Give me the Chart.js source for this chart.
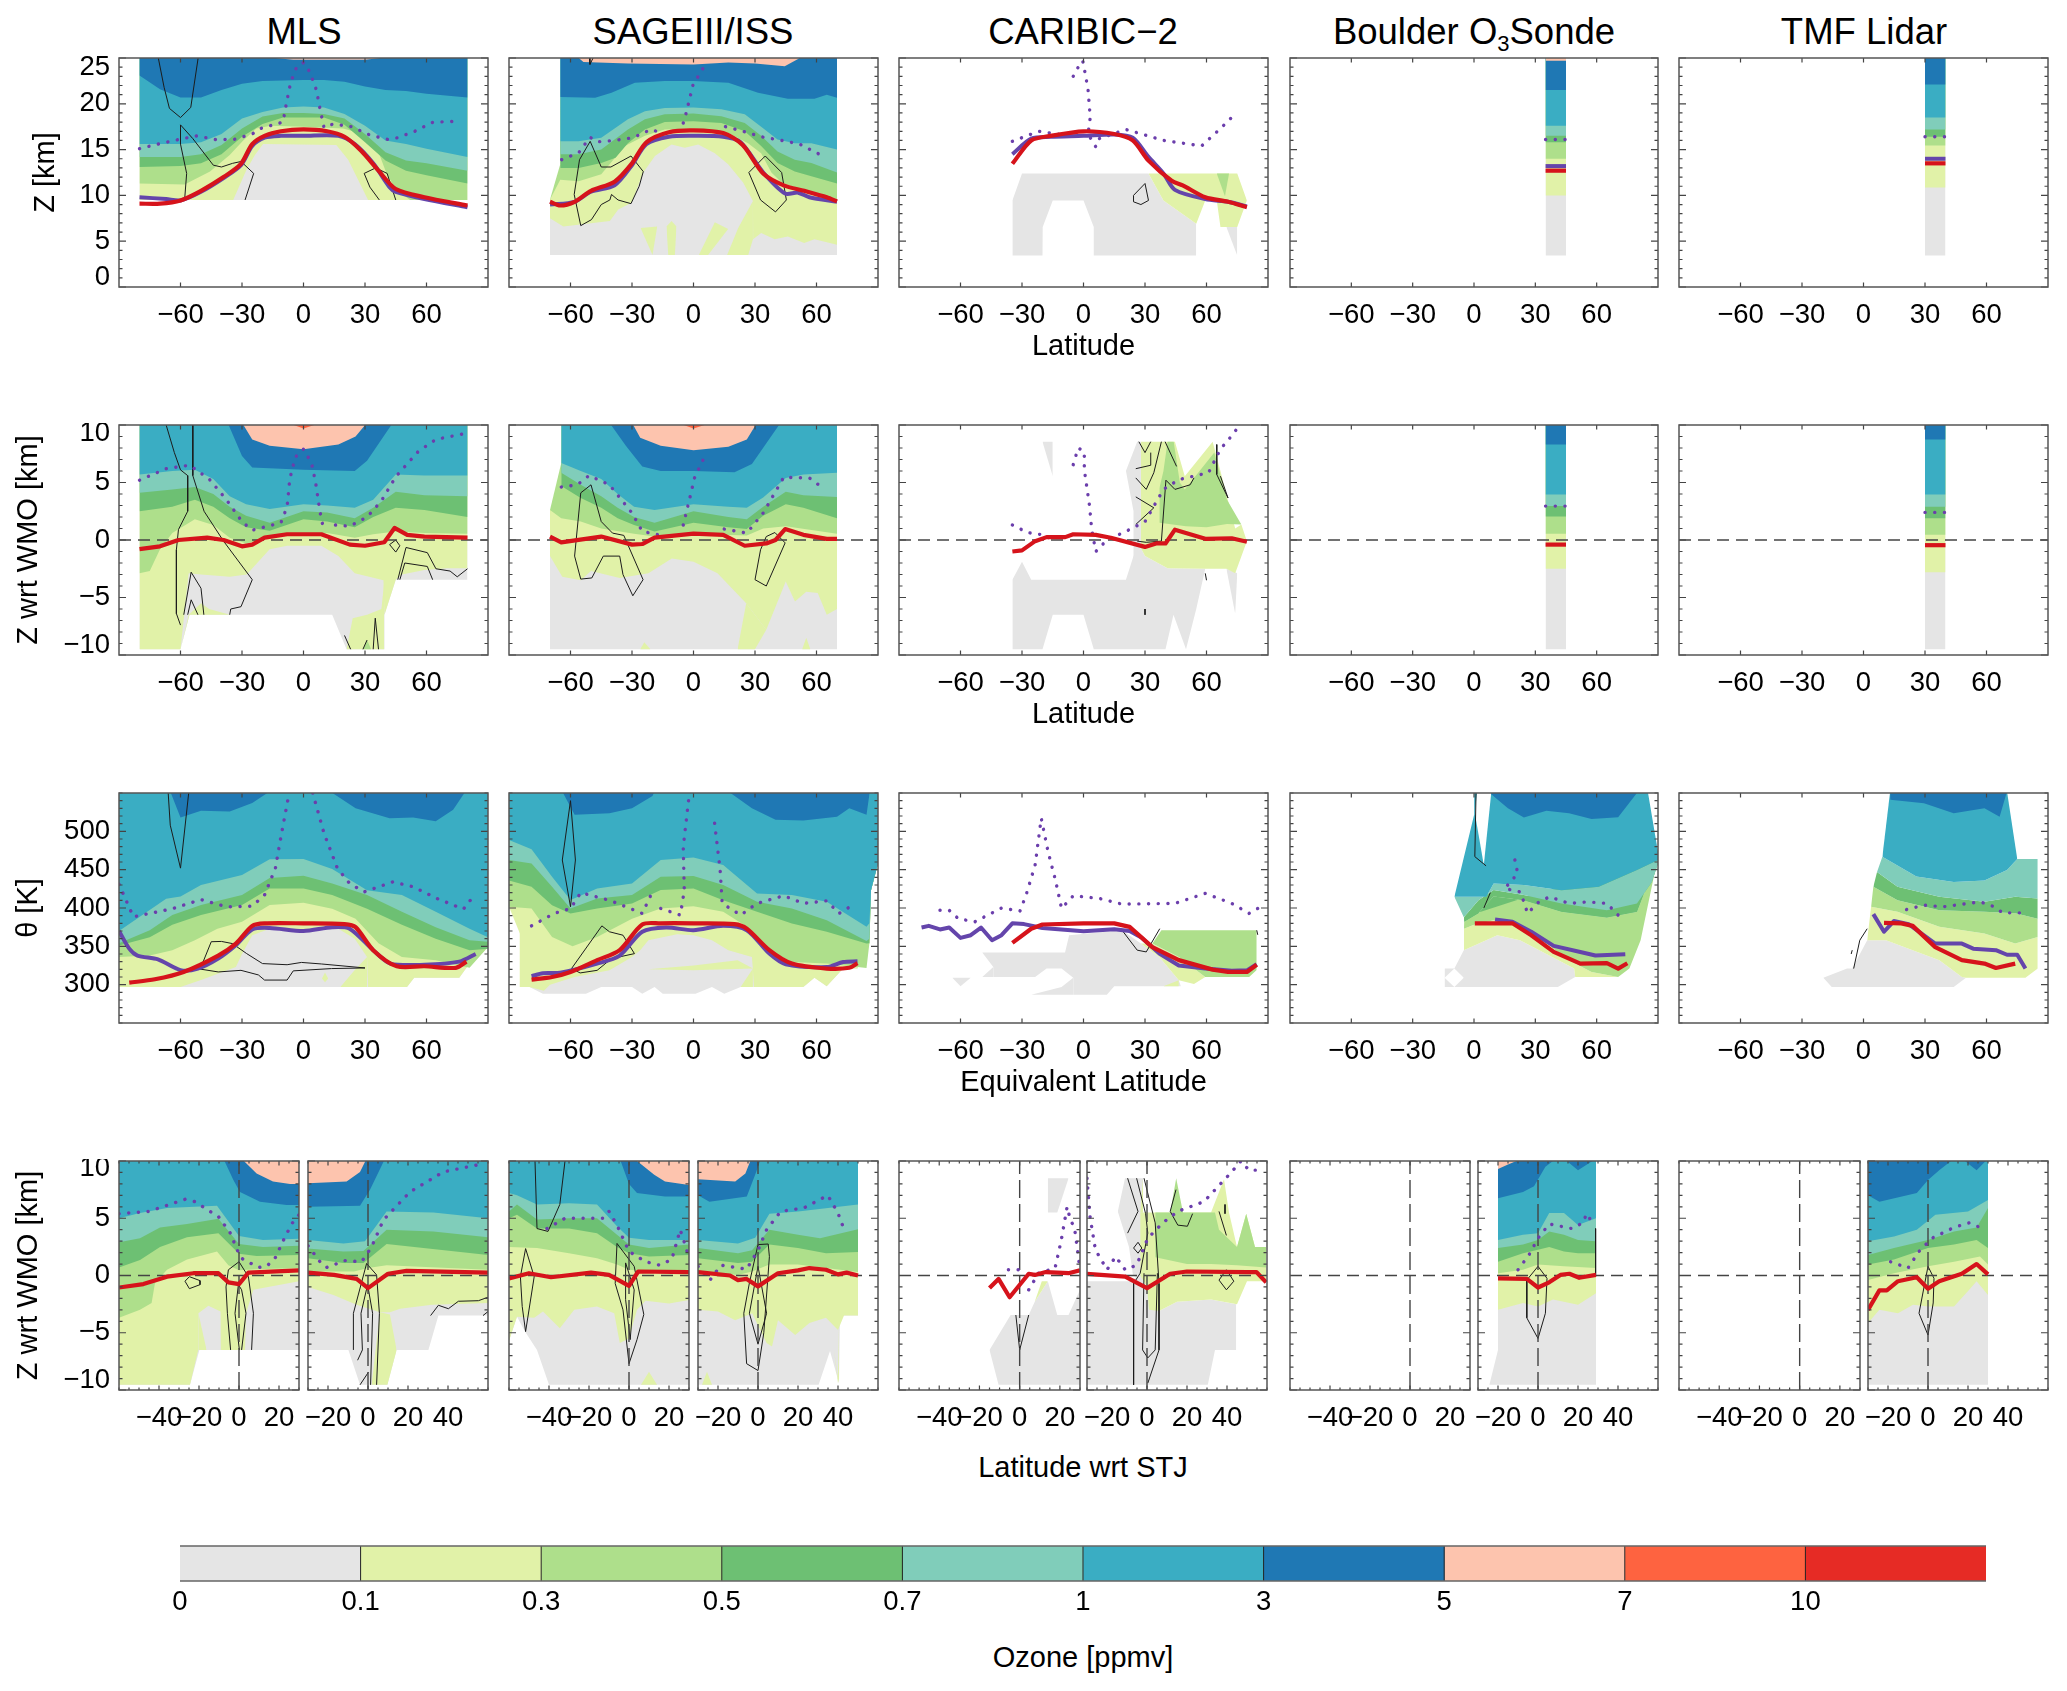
<!DOCTYPE html>
<html><head><meta charset="utf-8">
<script src="https://cdn.jsdelivr.net/npm/chart.js@4"></script>
<style>
html,body{margin:0;padding:0;background:#fff;width:2067px;height:1691px;overflow:hidden;font-family:"Liberation Sans",Arial,sans-serif;color:#000}
canvas{position:absolute}
.t{position:absolute;transform:translate(-50%,-50%);white-space:nowrap}
.h{font-size:36.5px}.l{font-size:29px}
sub{font-size:22px;line-height:0;vertical-align:-7px}
</style></head><body>
<div class="t h" style="left:304px;top:32px">MLS</div>
<div class="t h" style="left:693px;top:32px">SAGEIII/ISS</div>
<div class="t h" style="left:1083px;top:32px">CARIBIC−2</div>
<div class="t h" style="left:1474px;top:32px">Boulder O<sub>3</sub>Sonde</div>
<div class="t h" style="left:1864px;top:32px">TMF Lidar</div>
<div class="t l" style="left:1083px;top:1467px">Latitude wrt STJ</div>
<div class="t l" style="left:1083px;top:1657px">Ozone [ppmv]</div>
<script>
// ---- colour-bar categories
const ozoneLabels=["0","0.1","0.3","0.5","0.7","1","3","5","7","10"];
const ozoneBins=[1,1,1,1,1,1,1,1,1,1];
const C=['#E5E5E5','#E1F2A8','#AEDF8B','#6DC073','#80CDBA','#3AADC3','#1F78B4','#FDC4AE','#FE6340','#E62B25','#FFFFFF'];
const W=10;
// Each *_iso list: lower data limit, then the 0.1,0.3,0.5,0.7,1,3,5,7 ppmv contours as [x,y,x,y,...]

// ===== Row 1: Z [km] vs latitude =====
const mlsZ_iso=[
[-80,9.5,80,9.5],
[-80,9.5,-34.3,9.5,-27.8,12.8,-23.7,14.4,-19.7,15.6,16,15.5,21.8,13.9,31.5,9.5,80,9.5],
[-80,11.3,-58,11.2,-45.6,12.6,-36,14.4,-29.4,16,-23,17.3,-16,17.6,0,17.5,19.3,17.3,27.5,16.8,35.6,15.3,40.5,12.4,45.3,10.6,52,9.5,80,9.5],
[-80,13.1,-60,13.2,-50,13.5,-40,14.5,-30,16.4,-20,17.8,-10,18.5,0,18.5,10,18.5,20,17.7,30,15.8,40,13.8,50,12.7,60,12.2,80,11.3],
[-80,14.2,-60,14.2,-50,14.5,-40,15.5,-30,17.3,-20,18.6,-10,19,0,19,10,18.9,20,18.4,30,16.7,40,14.7,50,13.8,60,13.5,80,12.7],
[-80,15.6,-60,15.6,-50,15.8,-40,16.7,-30,18.4,-20,19.1,-10,19.6,0,19.7,10,19.6,20,18.9,30,17.6,40,16,50,15.6,60,15.1,80,14.2],
[-80,23.1,-70,21.6,-60,20.7,-50,20.7,-40,21.5,-30,22.2,-20,22.5,0,22.6,10,22.6,20,22.4,30,21.9,40,21.5,50,21.4,60,21.1,80,20.7],
[-22,25.2,-5,24.8,10,24.8,30,24.8,45,25.2]];
const mlsZ_red=[-80,9.1,-70,9.1,-60,9.45,-50,10.5,-39,12,-30.5,13.45,-25,15.6,-19,16.5,-11,17,0,17.2,11.5,17,20,16.4,28,14.9,36.6,12.7,45,10.7,59,9.8,80,8.9];
const mlsZ_purple=[-80,9.8,-67,9.6,-60,9.45,-50,10.4,-39,11.9,-30.5,13.3,-25,15.4,-19,16.3,-11,16.5,0,16.5,17,16.5,25,15.6,34,13.5,42,10.9,45,10.4,59,9.6,80,8.7];
const mlsZ_dots=[-80,15.1,-71,15.6,-61,16.1,-52,16.5,-43,16.1,-34,16.1,-25,16.7,-21,17.3,-10,18,-8.3,20.1,-6.3,22.3,-3.4,24,0,24.5,3,23.5,6.3,21.5,8,19.5,10,17.4,14.5,17.8,23.4,17.5,32.3,16.6,41.3,16.1,46,16.3,54.3,17,63.2,18,77,18.1];
const mlsZ_black=[[-71,25.2,-68,21.8,-65.4,19.5,-60,18.5,-55,19.6,-51.4,25],[-58,9.5,-57,12.4,-60,15.6,-60,17.7,-54,16.2,-44,13.3,-40,13.1,-34.6,13.5,-30.5,13.7,-24.3,12.4,-28.5,9.5],[37,9.5,32.4,10.9,29.6,12.4,35.2,13,40.8,12.4,45,9.5]];

const sageZ_iso=[
[-70,3.5,70,3.5],
[-70,7.5,-63.5,6.6,-40.8,7.2,-36.7,8.45,-30.2,9.2,-24.5,12.5,-18.8,14.3,-10.7,15.55,-4.2,15.2,2.3,15.55,10.4,14.6,16.9,13.4,24.2,11.4,29,9.4,29.1,5.2,33,5.9,39.6,5.2,46,5.5,54,4.8,59,5.2,70,4.6],
[-70,9.55,-65,11.7,-56,11.55,-45,12.3,-33.5,15.4,-23.7,16.5,-14,17.2,0,17.3,17,16.8,26.6,15.7,33,14.6,38,12.5,43,11.4,57.5,10.3,70,9.4],
[-65,13,-56,13,-45,13.55,-38,14.1,-32,15.7,-23.7,17.2,-14,18,0,18.1,13.6,17.9,25,17,33,15.4,41,13.55,49.4,12.6,57.5,12.1,70,11.3],
[-65,14.5,-56,14.5,-45,15,-32,17.2,-23.7,18.3,-14,18.85,0,18.95,13.6,18.65,25,17.9,33,16.5,41,14.8,49.4,13.9,57.5,13.55,70,12.5],
[-65,15.9,-56,15.9,-45,16.3,-32,18.3,-23.7,19.2,-14,19.55,0,19.6,13.6,19.4,25,18.85,33,17.5,41,16.1,49.4,15.7,57.5,15.7,70,15],
[-65,20.75,-48,20.65,-40,21.2,-28.6,22.3,-14,22.5,0,22.5,17,22.3,31.5,21.2,46,20.55,59,20.55,65,21,70,20.65],
[-57,25.2,-53.7,24.55,-32,24.4,0,24.3,17,24.5,30,24.4,44.5,24.1,51,24.9,53,25.2]];
const sageZ_spots=[
[1,[16.4,3.5,21.8,6.45,29,9.4],[16.4,3.5,26.7,3.5,29,5.2]],
[1,[-25.8,6.45,-17.7,6.6],[-25.8,6.45,-20,3.5,-17.7,6.6]],
[1,[-13.2,6.6,-10.7,7.2,-8.3,6.6],[-13.2,6.6,-12.3,3.5,-9.1,3.5,-8.3,6.6]],
[1,[2.6,3.5,10.4,7.07,16.9,6.34],[2.6,3.5,7.1,3.5,16.9,6.34]],
[W,[-70,26,-65,26],[-70,9.55,-65,13.4]]];
const sageZ_red=[-70,9.3,-65,8.9,-58,9.3,-50,10.5,-38.5,11.5,-30,13.5,-23,15.8,-12,16.9,0,17.1,14.5,16.8,24,15.5,34,12.4,44,11.1,54,10.5,65,9.8,70,9.35];
const sageZ_purple=[-70,9,-58,9.3,-50,10.4,-38.5,11.1,-30,13.3,-23,15.6,-12,16.4,0,16.5,14.5,16.4,23,15.8,34,12.5,44.7,10.2,51,10.3,56.5,9.8,70,9.3];
const sageZ_dots=[-64.3,13.9,-56,14.65,-50.5,16.35,-46.8,15.85,-38.3,16,-29.4,16.3,-20.8,17.2,-16.7,16.9];
const sageZ_dots2=[-5,17.9,-3.7,18.9,-2.6,19.9,-0.2,22.1,2.3,23,4.7,23.9];
const sageZ_dots3=[15.6,17.5,24.2,17,33,16.4,43,16,51.8,15.6,60,14.65,64,14.2];
const sageZ_black=[[-55,6.7,-58.2,10.1,-55.6,13.9,-50.4,15.9,-45,13.1,-40.3,13.1,-30.5,14.3,-24.5,12.6,-26.5,11,-30.5,9.1,-36.8,9.5,-40,10.1,-40.8,9.5,-45,9,-49.8,7.35,-55,6.7],[27,12.5,32.7,9.5,40,8.2,45.3,9.5,43,12.5,35,14.3,27,12.5],[-50.5,24.3,-49,25],[-50.8,25,-50.5,24.3]];

const caribicZ_spots=[
[0,[-34.7,9.45,-30,12.4,31.7,12.4,39,9.45,55,6.9],[-34.7,3.45,-20,3.45,-19.9,6.55,-15,9.45,0,9.45,5,6.55,5.1,3.45,55,3.45]],
[0,[69.7,6.55,75,6.55],[69.7,6.55,74.9,3.45,75,3.45]],
[1,[31.7,12.4,75,12.4,79.7,9.45],[31.7,12.4,39,9.45,55,6.9,59.4,9.45,65,9.45,66.8,6.55,75,6.55,79.7,9.45]],
[2,[65,12.4,71,12.4],[65,12.4,69,9.9,71,12.4]]];
const caribicZ_red=[-34.7,13.45,-25.5,16,-16,16.5,0,17,15,16.7,24,16,31.7,13.8,43,11.6,48.4,11.1,59.4,9.8,70.5,9.3,79.7,8.7];
const caribicZ_purple=[-34.7,14.5,-25.5,16.2,-16,16.4,0,16.5,15,16.65,24,16.3,31.7,14.2,39,12.4,44.6,10.6,59.4,9.6,70.5,9.3,79.7,8.8];
const caribicZ_dots=[-34.7,15.9,-21.8,17,-7,16.5];
const caribicZ_dots2=[-5,23,-2.6,24,-0.4,24.7,0.4,23.8,2.2,21.6,3.3,18.5,2.2,16.7,6,15.3,7.7,16.2,20.7,17.2,39,16,57.6,15.4,66.8,17.3,74,18.9];
const caribicZ_black=[[24.4,9.3,24.4,10,30,11.3,31.7,9.45,28,9,24.4,9.3]];

const boulderZ_levels=[3.45,10,14,15.8,16.5,17.6,21.5,24.7];
const boulderZ_lat=[35,45];
const boulderZ_red=[35,12.7,45,12.7];
const boulderZ_purple=[35,13.2,45,13.2];
const boulderZ_dots=[35,16.1,45,16.1];
const tmfZ_levels=[3.45,10.85,15.45,16.4,17.2,18.5,22.1];
const tmfZ_lat=[30,40];
const tmfZ_red=[30,13.5,40,13.5];
const tmfZ_purple=[30,14,40,14];
const tmfZ_dots=[30,16.4,40,16.4];

// ===== Row 2: Z wrt WMO =====
const mlsW_iso=[
[-80,-9.5,-60,-9.5,-55.6,-6.5,14,-6.5,21,-9.5,39.4,-9.5,39.5,-6.5,45,-3.45,80,-3.45],
[-80,-9.5,-60,-9.5,-56,-2.9,-50,-3,-36,-3.2,-27.7,-3,-16.5,-0.8,-8,-0.5,8.7,-0.5,17,-1.4,25,-2.9,39,-3.5,39.5,-6.5,45,-3.45,48,-3,59,-2.6,70,-2.45,80,-2.45],
[-80,-2.9,-75,-2.7,-70,-0.8,-64,0.6,-53,1.8,-44,1.3,-36,0.2,-28,-0.3,-16.5,0.2,0,0.6,11.5,0.6,25,0.2,34,0.5,45,0.75,59,0.6,80,0.55],
[-80,2.5,-64,2.9,-53,3.5,-44,2.9,-36,1.9,-28,1.1,-16.5,0.8,0,1.8,11.5,1.6,25,1.1,34,2,45,2.8,59,2.6,80,2],
[-80,4.1,-64,4.4,-53,4.6,-44,4,-36,2.9,-28,2.1,-16.5,1.5,0,2.5,11.5,2.4,25,1.9,34,2.8,45,4.2,59,3.9,80,3.8],
[-80,5.7,-64,6,-53,6.1,-44,5.3,-36,3.8,-28,3.1,-16.5,2.7,0,3.1,11.5,3,25,2.8,34,3.5,45,5.7,59,5.6,80,5.6],
[-37,10.2,-30,7.3,-25,6.3,0,6.1,25,6,31,6.9,43.6,10.2],
[-30,10.2,-25,8.75,-16.5,8.2,0,7.9,17,8.3,25.4,9,31,10.2],
[-8,10.2,0,9.7,8.7,10.2]];
const mlsW_spots=[
[1,[-60,-9.5,-56,-6.5,-50,-5.5,-46,-6,-36,-6.5],[-60,-9.5,-55.6,-6.5,-36,-6.5]],
[1,[21,-9.5,24,-6.8,31,-6.5,38,-6,39.4,-3.6],[21,-9.5,39.4,-9.5]],
[2,[29,-9.5,31,-8.7,33,-9.5],[29,-9.5,33,-9.5]]];
const mlsW_red=[-80,-0.8,-70,-0.55,-61,0,-47,0.2,-39,0,-30,-0.55,-25,-0.4,-19,0.2,-8,0.5,8.7,0.5,22.6,-0.4,30,-0.5,39.4,-0.2,44.4,1.05,50.6,0.45,59,0.3,80,0.2];
const mlsW_dots=[-80,5.2,-67,6.2,-55.6,6.5,-46,5.3,-37.6,3.5,-30,1.6,-25,0.85,-11,1.5,-8,2.9,-6.7,5.3,-4,7.2,0,7.9,3.9,6.7,5.9,5,8,2.5,10,0.75];
const mlsW_dots2=[15.6,1.3,22.6,1.2,31,2,38,3.4,45,5.5,56,7.7,64.6,8.75,80,9.3];
const mlsW_black=[[-67,10,-63,7.6,-60,6.1,-56.5,5.6,-56.5,2.5,-61,0.9,-62,-0.85,-62,-6.4,-60,-7.4],[-54,10,-54,5.6,-48.5,2.5,-39,-0.1,-25,-3.45,-30.5,-5.8,-35.5,-6,-36,-6.5],[-58.4,-6.5,-54.8,-2.8,-50,-4.2,-48.6,-6.5],[-56.5,-6.5,-54.8,-5.2,-51.5,-6.5],[42,-0.4,45,0,47,-0.5,45,-1.05,42,-0.4],[46,-3.45,50,-0.65,60.4,-1.1,64.6,-2.5,71.5,-2.7,75,-3.2,80,-2.5],[47,-3.45,49.4,-2,60.4,-2.3,63,-3.45],[20,-8.3,23,-9.5],[29,-9.5,31,-8.7],[34,-9.5,35,-6.8,36.6,-9.5]];

const sageW_iso=[
[-70,-9.5,70,-9.5],
[-70,-1.4,-64,-3.2,-55,-3.5,-50,-2.7,-36,-3.3,-22,-2.9,-10.6,-1.6,0,-1.9,11.7,-2.9,25.7,-5.5,35.5,-7.8,45,-3.6,49.5,-5.35,55,-4.5,60.6,-4.6,65,-6.5,70,-6],
[-70,2.6,-64.5,1.9,-55,1.6,-45,1,-29,0.55,-19,0.3,0,0.55,26,0.4,34,1,45,1.2,70,0.55],
[-64.5,4.7,-55,3.65,-45,2.8,-37,1.9,-29,1.3,-19,0.75,0,1.5,17,1.1,26,0.95,34,2.1,45,3.1,53.6,2.8,70,1.9],
[-64.5,5.85,-55,4.8,-45,3.8,-37,2.8,-29,2,-19,1.5,0,2.5,17,2,26,1.8,34,2.9,45,4.2,53.6,3.9,70,3.75],
[-64.5,6.7,-55,6,-45,5.3,-37,4,-29,2.9,-19,2.6,0,3.1,17,2.9,26,2.8,34,3.7,45,5.4,53.6,5.7,70,5.85],
[-41,10.2,-33,8.2,-25,6.4,-16,6,0,6,20,5.9,28.5,6.6,42.5,10.2],
[-30,10.2,-26,8.9,-16,8.2,0,7.8,17,8.1,26,8.75,31,10.2],
[-8,10.2,0,9.7,9,10.2]];
const sageW_spots=[
[1,[21.5,-9.5,25.7,-5.5,35.5,-7.8],[21.5,-9.5,30,-9.5,35.5,-7.8]],
[1,[-26,-9.5,-24,-8.9,-21,-9.5],[-26,-9.5,-21,-9.5]],
[1,[53,-9.5,55,-8.5,57,-9.5],[53,-9.5,57,-9.5]],
[W,[-70,10.2,-64.5,10.2],[-70,2.6,-64.5,6.7]]];
const sageW_red=[-70,0.3,-64.5,-0.2,-45,0.3,-30,-0.4,-25,-0.35,-19,0.2,0,0.55,14.5,0.45,25,-0.5,35.5,-0.3,40,0,44.7,0.95,53.6,0.45,65,0.1,70,0.1];
const sageW_dots=[-64.5,4.6,-56.7,4.8,-51,5.6,-41,4.8,-30,2.35,-25,0.75,-17,0.45];
const sageW_dots2=[-5,1.3,-2,3.5,0.5,5.4,4.75,7];
const sageW_dots3=[15,0.95,26,0.6,34,2.35,44,5.45,56.5,5.4,64,4.4];
const sageW_black=[[-55,4.1,-50,4.8,-45,1.6,-39.5,0.6,-34,0.4,-24.6,-3.45,-29.6,-4.85,-34.4,-3,-36,-1.4,-44,-1.4,-49.6,-3.3,-55,-3.4,-58,-1.4,-55,4.1],[30,-3.45,35.5,-4,44.7,-0.25,39.7,0.65,35.5,0.3,32.7,-0.85,30,-3.45]];

const caribicW_spots=[
[0,[-34.7,-3.45,-30,-1.9,-25.5,-3.45,20.7,-3.45,24.4,-1.4,28,-0.7,30,-1.4,41,-2.45,59.4,-2.5],[-34.7,-9.5,-20,-9.5,-15,-6.5,0,-6.5,5,-9.5,40,-9.5,43.9,-6.5,50,-9.5,55,-6,59.4,-2.5]],
[0,[20.7,6,26.2,8.55,28,8.55],[20.7,6,24.4,2.5,24.5,-1.5,28,-0.7]],
[0,[-20,8.55,-15,8.55],[-20,8.55,-15,5.55]],
[0,[69.7,-2.5,75,-2.9],[69.7,-2.5,74,-6.4,75,-2.9]],
[1,[28,8.55,44.6,8.55,49.4,5.55,63,8.55,66.8,6,74,1,77,1.35,79.7,-0.1],[28,-0.7,30,-1.4,41,-2.45,59.4,-2.5,69.7,-2.5,74,-2.9,79.7,-0.1]],
[2,[37,4.5,39,6,41,8.55,44,8.55,47,5,49.4,4.4,53.9,5.4,63.8,7.6,70,3.5,77,1.35],[37,4.5,37.1,1.5,50,1.2,60,1.1,70,1.4,77,1.35]]];
const caribicW_red=[-34.7,-1,-30,-0.9,-23.6,-0.1,-18,0.25,-8.9,0.25,-5,0.5,6,0.45,13.3,0.2,30,-0.6,35.4,-0.3,40,-0.3,44.6,0.9,59.4,0.1,72.3,0.15,79.7,-0.15];
const caribicW_dots=[-34.7,1.3,-27.3,0.65,-18,0.4,-15,-0.2];
const caribicW_dots2=[-5,6.55,-2.6,8,0.4,7.7,0.4,6.1,3,2.9,4,0.9,6,-1,11.4,0,20.7,0.75,30,1.6,39,4.4,46.5,5.25,61,5.85,66.8,7.9,73.4,9.3,76,10];
const caribicW_black=[[27,8.55,30,7.6,32.8,8.55],[25.5,6.2,32.8,6.5,32.8,7.6],[25.5,5.4,30.6,4.4,34.3,5.85],[25.5,3.75,34.3,2.8,25.5,1.35],[26.2,-0.1,30.6,-0.2,38,-0.1,40.2,5.2,44.6,4.4,52,4.8,53.9,5.4],[39.8,8.55,45.4,6.4],[38,8.55,34.3,5.85],[65,8.3,65,5.7,70.5,3.65,66.8,5.55],[59.4,-2.9,60,-3.5],[30,-6,30,-6.5]];

const boulderW_levels=[-9.5,-2.5,0.55,2.05,2.95,3.95,8.3];
const boulderW_red=[35,-0.4,45,-0.4];
const boulderW_dots=[35,2.95,45,2.95];
const tmfW_levels=[-9.5,-2.8,0.45,1.9,2.9,3.95,8.75];
const tmfW_red=[30,-0.45,40,-0.45];
const tmfW_dots=[30,2.4,40,2.4];

// ===== Row 3: theta vs equivalent latitude =====
const mlsT_iso=[
[-90,297,50.5,297,54,309,76,309,79.5,322,90,349],
[-90,297,-60,297,-50,306,-33,323,-30,340,-25,364.5,-16.5,373,0,372,17,373,25,360,31,336,31.5,297,50.5,297,54,309,76,309,79.5,322,90,349],
[-90,336,-75,338,-64,345,-53,358,-42,373,-30,382,-16.5,404,0,407,14,399,25.4,386,36.6,354,48,336,64.5,332,81,322,90,349],
[-90,351,-75,362,-64,378,-50,391,-30,404,-16.5,425.5,0,425.5,14,417,31,399,48,378,64.5,360,81,345,90,347],
[-90,354,-75,371,-64,391,-50,404,-30,417,-16.5,439,0,442,14,432,31,417,48,395,64.5,375,81,358,90,356],
[-90,370,-67,412,-60,415,-50,430,-30,443,-16.5,463.5,0,464,14,451,31,423,48,417,64.5,395,81,373,90,362],
[[-65,552,-60,518,-50,527,-36,526,-25,537,-16.5,552],[13,552,25.4,530,42,517,53.5,518,64.5,513,73,528,79,552]]];
const mlsT_spots=[[1,[18,297,25,319,31,336],[18,297,31.5,297]],[1,[9,308,10.5,316,12,308],[9,308,10.5,303,12,308]]];
const mlsT_red=[-85,302.6,-72.5,307,-58.5,316.6,-41.6,338,-33,353.6,-25,376.7,-19,380,0,380,20,379,25.4,375,34,345,45.5,324,59,324,74.3,322,79.5,330];
const mlsT_purple=[-90,370,-85,347,-81,338,-71,333,-60,319,-51.5,321,-41.6,334,-33,351.4,-25,372,-16.5,374,0,370,14,375,22.5,373,34,345,42.4,327.5,59,326,76,330,84,340];
const mlsT_dots=[-90,431,-83,388.5,-64,399,-50,411,-37.5,401.6,-25,402.4,-19,417,-13.7,452,-11,493,-7,550];
const mlsT_dots2=[4.5,550,10,497.5,16.5,452,22.5,432,29.6,421,43.5,434,53.5,427.7,65,412.5,78,398.5,84,419];
const mlsT_black=[[-66,550,-65,508,-60,452,-56,550],[-50,323,-45,356,-40,356.4,-34.7,353.6,-27.7,340.5,-20,327.5,-8,326,-1,329,8.7,327,30,321.8,13.7,321,-5,318,-8,306,-19,306,-22,312.7,-30.5,318.7,-41.6,316.6,-51.5,320.8]];

const sageT_iso=[
[-90,297,-80,297,-73.5,288,-52.5,288,-45,297,-30,297,-25,288,-19,297,-15,288,1,288,9,297,15,288,23,297,53.6,297,59,309,65,298,73,321,80,321,85.8,354,86.6,423,90,458],
[-90,297,-80,297,-73,292,-70,300,-58,310,-41,318.7,-30,336,-26,345,-22,358,-8,365.8,0,364.5,9,358,17,345,28.5,336,29,318.7,29.5,297,53.6,297,59,309,65,298,73,321,80,321,85.8,354,86.6,423,90,458],
[-90,401.6,-79,399.4,-69,362.3,-59,350,-47,362.3,-30,386,-16,399.4,0,402.4,14.5,395,26,375.4,37,345,48,329.6,65,327.5,84.4,321.8,85.8,354,86.6,423,90,458],
[-90,436,-79,427.7,-69,403.7,-60,392.9,-47,399.4,-30,406,-16,423.4,0,425.5,14.5,410,31,395,48,379.8,65,368.9,84.4,353.6,85.8,354,86.6,423,90,458],
[-90,462.6,-79,458,-69,427.7,-60,399.4,-47,412.5,-30,416.8,-16,440.8,0,441.7,14.5,430,31,408,48,399.4,65,384,84.4,357,85.8,360,86.6,423,90,458],
[-90,488.8,-79,476.5,-69,440.8,-60,410.3,-47,425.5,-30,432,-16,462.6,0,466,14.5,456,31,419,48,416.8,65,408,84.4,375.4,85.8,380,86.6,423,90,458],
[[-64,552,-58,521.5,-41,523.6,-30,530,-20,546,-19,552],[17,552,28.5,530,40,515,53.6,514,70,519,76,530,84.4,521.5,86,552]]];
const sageT_spots=[[1,[-22,320,0,325,21.5,332,29,321],[-22,320,0,318.7,29,321]],[1,[23,297,29,321],[23,297,29,297]],[W,[-90,401.6,-84.7,366.7],[-90,285,-84.7,285]]];
const sageT_red=[-79,306.5,-69,310,-60,316.6,-47,332,-36,345,-25,378.5,-16,380,0,380,20,379,26,373,37,345,48,327.5,65,321,76,322,80,328];
const sageT_purple=[-79,311,-73.5,315,-65,315.7,-47,327.5,-36,338,-25,369,-13.4,374.5,0,371,14.5,376.7,26,371,37,340.5,45,326.6,65,323,73,329.6,80,330.5];
const sageT_dots=[-79,376.7,-68,392.9,-60,399.4,-55,420,-41,410,-33,401.6,-25,392.9,-20.4,419];
const sageT_dots2=[-16,399.4,-6.4,390.7,-4.5,423,-5,480,-2,550];
const sageT_dots3=[10.3,510.5,13,449.5,14,406,23,390.7,31,406,44,416,53.6,406,65,409.4,71,392.9,79,406];
const sageT_black=[[-60,540,-64,462.6,-60,401.6,-57.6,462.6,-60,540],[-59.5,321,-44.7,376.7,-41,369,-34.4,364.5,-28.8,340.5,-40,334,-47,318.7,-55.3,315.3,-59.5,321]];

const caribicT_spots=[
[0,[-49.4,341.8,-9,341.8,-7,364.5,18.8,371,28,353.6,37,336,46.5,305.7,47.5,297.8],[-49.4,341.8,-44,323,-43.9,310,-23.6,310,-18,321,-10.7,321,-5,309,-4.9,287,11.4,287,15,297.8,47.5,297.8]],
[0,[-25.5,287,-10.7,297,-5,309],[-25.5,287,-5,287]],
[0,[-49.4,310,-44,323],[-49.4,310,-44,310]],
[0,[-64,309,-55,309],[-64,309,-60,298,-55,309]],
[1,[28,353.6,33.6,353.6,46.5,336,59.4,310],[28,353.6,37,336,46.5,305.7,53.9,301,59.4,310]],
[1,[39,297.8,46.5,305.7],[39,297.8,47.5,297.8]],
[2,[33.6,353.6,38,371,84.5,371],[33.6,353.6,46.5,336,59.4,310,80.8,310,84.5,319]]];
const caribicT_red=[-34.7,354.5,-25.5,373,-20,378.5,0,380,15,380,22.5,375.4,33.6,349,46.5,332,63,319.6,70.5,316.6,79.7,316.6,84.5,326];
const caribicT_purple=[-79,374.5,-75.5,376.7,-70,372,-65.5,374.5,-60,361,-55,364.5,-50,374.5,-44.6,358,-40,364.5,-34.7,380,-29,379,-20,374,0,369.7,15,372.4,22.5,370,28,362,37,340.5,46.5,325,59.4,321,72.3,318,79.7,318.7,84.5,326.6];
const caribicT_dots=[-70,397,-65.5,397,-61,386,-53,382,-40,400,-31,396,-28,417,-23.6,456,-20.6,517,-17.3,473.5,-13.7,436.5,-10.7,399.4,-5,416,7.7,412.5,18.8,405,44.6,406,59.4,419,72.3,406,80.8,393,85,399.4];
const caribicT_black=[[18.8,371,26.2,345,30.6,342.7,37.2,373],[84.5,371,85,365]];

const boulderT_floor=[-14.4,297,41,297,49.5,310,70.5,310,76,321,81.5,358,89,454,90,480];
const boulderT_i01=[-14.4,321,-9.6,321,-5,345,11.4,364.5,22.5,358,49,321,49.5,310,70.5,310,76,321,81.5,358,89,454,90,480];
const boulderT_i03=[-5,345,-4.9,373,0,378,9.6,384,20.6,379,35.4,353.6,46.5,332,57.5,316.6,70.5,310,76,321,81.5,358,89,454,90,480];
const boulderT_i05=[-4.9,373,-4.8,382,2.2,393,9.6,415,24.4,410,42.8,395,65,387.6,79.7,395,85,432,90,470];
const boulderT_i07=[-4.8,382,-5,388,2.2,410,9.6,423.4,24.4,417,42.8,406,65,397,79.7,406,87,434,90,458];
const boulderT_i1=[-9.6,414.6,6,414.6,9.6,432,24.4,430,42.8,423,61,427.7,79.7,449.5,90,462.6];
const boulderT_i07b=[-9.6,414.6,-5,388,2.2,410,9.6,423.4,24.4,417,42.8,406,65,397,79.7,406,87,434,90,458];
const boulderT_top=[-9.6,414.6,0,521,0.1,552,85,552,90,473];
const boulderT_i3=[7.7,550,16.6,530,24.4,518,35.4,527,46.5,523.6,57.5,516,70.5,518.5,79.7,550];
const boulderT_ceil=[7.7,552,79.7,552];
const boulderT_notchHi=[0.4,524,1.5,552,8.5,552];
const boulderT_notchLo=[0.4,524,4.8,456,8.5,552];
const boulderT_holeHi=[-14.4,309,-9.6,321,-5,309];
const boulderT_holeLo=[-14.4,309,-9.6,297,-5,309];
const boulderT_red=[0.4,380,18.8,380,28,364.5,39,342.7,52,327.5,65,328,70.5,321,75,328];
const boulderT_purple=[10.3,385,18.8,382,28,369,39,350.6,52,342.7,59.4,338,74,339.7];
const boulderT_dots=[20,462.6,21.4,445,15,425.5,22.5,421,24.4,408,26.2,393,31.7,408,37,414.6,46.5,406,55.7,408,65,406,70.5,390.7];
const boulderT_black=[[1,550,0.4,467,5.9,455],[4.8,400,8,420]];

const tmfT_floor=[-19.6,309,-15.5,297,44,297,50,309,79,309,85,321];
const tmfT_i01=[-19.6,309,-8,321,-5.5,321,1.8,358,3.7,358,11,358,37,332,48,310,50,309,79,309,85,321];
const tmfT_i03=[1.8,358,3.7,401.6,16.6,395,37,375.4,59,366.7,74,353.6,85,362.3];
const tmfT_i05=[3.7,401.6,4.8,427.7,16.6,410,37,397,59,395,74,393,85,386];
const tmfT_i07=[4.8,427.7,6.6,447,16.6,427.7,37,414.6,59,408,74,414.6,85,412.5];
const tmfT_i1=[6.6,447,9.2,467,25.8,441,44,434,59,436,70,449.5,75,464,85,464];
const tmfT_top=[9.2,467,13,552,70,552,75,464];
const tmfT_i3=[13,552,13.1,541.3,29.5,536.7,44,523.6,59,530,66.4,519,70,552];
const tmfT_ceil=[13,552,70,552];
const tmfT_red=[10,380.6,18.5,380,24,376.7,35,349,48,332,59,327.5,64.6,321.8,74,327.5];
const tmfT_purple=[4.8,392,10,369,14.8,383,22,379,35,353.6,48,353.6,53.5,347,64.6,345,70,339,75,339,79,321];
const tmfT_dots=[21,398,29.5,403.7,39,401.6,57,408,63,402.4,68,393.7,77.5,393.7];
const tmfT_black=[[1.8,373,-1.8,358,-4.8,321],[-5.5,345,-6,340]];

// ===== Row 4: Z wrt WMO vs latitude wrt STJ =====
const mlsSL_iso=[
[-60,-9.55,-24.5,-9.55,-19.8,-6.5,30,-6.5],
[-60,-9.55,-24.5,-9.55,-20.4,-6.5,-20.3,-3.3,-15.3,-2.65,-9.2,-3.15,-9.1,-6.5,3,-6.5,3.5,-3.3,7.2,-1.25,30,-0.5],
[-60,-3.7,-49.5,-3,-43.7,-2.4,-42,-0.65,-36,0.5,-26,1.4,-11,2.1,-5.3,0.9,0,0.45,8.8,0.55,30,0.65],
[-60,0.7,-49.5,1.35,-39.5,2.5,-26,3.35,-10.3,3.7,0,1.9,8.8,1.7,30,1.8],
[-60,2.9,-49.5,3.25,-39.5,4.2,-26,4.5,-10.3,4.95,0,2.75,12,2.5,30,2.6],
[-60,5,-49.5,5.45,-36,5.9,-11,6.1,0,3.45,12,3.1,30,3.2],
[-7.8,10.2,-2.8,8.35,0.5,7.3,10.5,6.45,23.8,6.15,30,6.15],
[1.3,10.2,8.8,8.9,17,8.2,25.5,8,30,8]];
const mlsSL_spots=[[1,[-20.3,-3.3,-16.2,-6.5],[-20.3,-6.5,-16.2,-6.5]]];
const mlsSL_red=[-60,-1.05,-47.8,-0.75,-36,-0.1,-22.8,0.2,-10.3,0.2,-5.3,-0.6,0,-0.75,4.7,0.25,30,0.45];
const mlsSL_dots=[-60,5.4,-45,5.6,-27,6.65,-22,6.45,-14.5,5.6,-10.3,5.15,-4.5,3.75,-0.8,2.2,1.3,1.5,9.7,0.7,13.8,0.8,18,1.5,22,3,26.3,4.5,30,5.3];
const mlsSL_black=[[-27,-0.5,-24.8,-0.1,-19.5,-0.45,-19.5,-0.8,-24.8,-1.15,-27,-0.5],[-4.2,-6.5,-5.8,-3.3,-6.5,-1,-5.3,0.5,0,1.2,4.7,-0.1,7.2,-3.3,6.3,-6.5],[0.2,-6.5,-2,-3.3,-0.3,-0.8,1.3,-1.25,3.5,-3.3,1.3,-6.5]];

const mlsSR_iso=[
[-30,-6.5,-9.8,-6.5,-4,-9.55,9.7,-9.55,14.3,-6.5,30.2,-6.5,35.2,-3.5,60,-3.5],
[-30,-1,-17.3,-1.7,-5.7,-2.55,6,-3.2,11,-3.2,16,-2.9,32,-2.55,60,-2.4],
[-30,0.35,-7,0.35,0,0.65,9.3,0.9,60,0.5],
[-30,1.5,-12.3,1.1,-2.3,1.1,9.3,2.75,60,1.8],
[-30,2.35,-12.3,2.1,-2.3,2.15,9.3,4,32.7,3.85,60,3.35],
[-30,3.1,-12.3,2.8,-1.5,3,9.3,5.6,32.7,5.5,60,5],
[-30,6,-4,6.1,1,7.5,8.5,10.2],
[-30,8.05,-10.7,8.2,-4,9.05,-0.7,10.2]];
const mlsSR_spots=[[1,[1.8,-9.55,6,-3.2,11,-3.4,14.3,-6.5],[1.8,-9.55,9.7,-9.55,14.3,-6.5]]];
const mlsSR_red=[-30,0.25,-17,0.05,-5.7,-0.3,0,-1.1,10,0.15,19.3,0.4,60,0.25];
const mlsSR_dots=[-30,2.6,-24,1.2,-20.7,0.7,-11.5,1.3,-3.2,1.2,1.8,2.5,7.7,4.85,21,7.3,37.7,9.05,56,9.7];
const mlsSR_black=[[-7.3,-6.5,-7.3,-3.3,-0.7,1.05,4.3,0.05,5.7,-3.3,4.3,-9.55],[-5.2,-7.4,-2.8,-6.5,-3.5,-3.3,-0.2,-0.8,2.3,-3.3,1.3,-9.55],[-4,-9.55,0.2,-8.45],[31.3,-3.5,35.2,-2.6,40.2,-2.9,45.2,-2.25,55.2,-2.2,60,-1.9],[57.5,-3.5,60,-3.15]];

const sageSL_iso=[
[-60,-5.7,-56,-3.6,-52,-4.9,-46,-6.5,-40,-9.55,30,-9.55],
[-60,-5.7,-56,-3.6,-47.4,-3.7,-43,-3.15,-34.6,-4.6,-27.4,-3,-16,-2.7,-7.4,-3.3,-4.6,-5.9,0,-5.5,4,-3,8.3,-2.2,20,-2.45,30,-2.15],
[-60,2.5,-46,2.4,-30,1.95,-16,1.5,-6,0.95,0,0.5,10,0.35,30,0.5],
[-60,5,-56,5.3,-46,4.1,-30,4.1,-16,3.7,-6,2.5,0,1.95,10,1.65,30,1.8],
[-60,5.6,-56,6.2,-46,4.9,-30,5,-16,5,-6,3.55,0,2.7,10,2.4,30,2.7],
[-60,7.2,-56,7,-46,6.2,-30,6.3,-16,6.2,-6,4.3,0,3.3,10,3.1,30,3.1],
[-4.6,10.2,0,8,4,7.2,18,6.9,30,6.9],
[2.6,10.2,12.6,8.8,18,8.2,30,7.9]];
const sageSL_spots=[[1,[6,-9.55,10,-8.4,14,-9.55],[6,-9.55,14,-9.55]]];
const sageSL_red=[-60,-0.25,-50,0.2,-39,-0.15,-19,0.25,-10,0.05,0,-0.9,4.6,0.35,30,0.3];
const sageSL_dots=[-41,4.1,-32,5,-13,5,-10,5.6,-6,4.4,0,2.1,8.3,1.2,15.4,0.9,21.4,1.4,25.6,4,28.4,2.5,30,1.5];
const sageSL_black=[[-47,10,-46,4.1,-40.5,3.85,-34.6,6.2,-32,10],[-51.7,2.35,-54.3,-0.1,-53.4,-2.7,-51.7,-4.9,-47.4,-0.1,-51.7,2.35],[-6,2.8,2.6,0.8,7.4,-3.4,4,-5.6,0,-7.7,-3,-3,-6.9,-0.7,-6,2.8],[-1.7,1.1,2.6,-1.25,0.6,-5.6,-1.7,-2.1,-1.7,1.1]];

const sageSR_iso=[
[-30,-9.55,30.3,-9.55,36,-6.6,40.5,-9.4,41,-3.5,50,-3.5],
[-30,-3,-20,-3.15,-11.4,-3.9,-2.9,-3.3,4.3,-5.9,7,-6.2,10,-3.9,18.6,-5.2,25.7,-4.15,34,-3.7,40,-4.75,43,-3.5,50,-3.5],
[-30,0.35,-10,0.05,-3,0.35,5.7,0.95,20,0.95,34,0.65,50,0.3],
[-30,1.5,-10,1.1,-3,1.2,5.7,2.7,20,2.4,34,1.95,50,2.05],
[-30,2.4,-10,1.95,-3,2.2,5.7,4,20,3.55,31,3.25,50,4.05],
[-30,3.1,-10,2.8,-1.4,3.3,5.7,5.4,20,5.6,50,6.2],
[[-30,7,-24.3,6.45,-5.6,6.9,-1,9,1.4,10.2]],
[-30,8.4,-11.4,8.2,-6.3,8.9,-3.4,10.2]];
const sageSR_spots=[[1,[-28,-9.55,-25.5,-8.4,-23,-9.55],[-28,-9.55,-23,-9.55]],[1,[38,-6.5,40,-9,40.5,-4.5],[38,-6.5,40,-9.4,40.5,-9]]];
const sageSR_red=[-30,0.3,-14,0,-10,-0.4,-5.7,-0.3,0,-0.95,10,0.2,20,0.45,25.7,0.65,34,0.5,40,0.1,44.3,0.25,50,0];
const sageSR_dots=[-30,0.8,-24,-0.4,-18.6,0.9,-5.7,0.55,0,2.2,4.3,4,11.4,5.6,22.9,5.9,34.9,7,40,5.45,43.4,3.85];
const sageSR_black=[[0,-8.3,-5.7,-7.7,-7.1,-3.3,-4.3,-0.65,0,2.7,5.1,2.75,5.7,1.65,2.9,-5,0,-8.3],[0,-6,-4.3,-3.3,0,0.8,4.3,-3.3,0,-6]];

const caribicSL_spots=[
[0,[-15,-6.5,-4.5,-3.45,4.5,-3.45,7.5,-2.3,14,-0.5,18.7,-3.45,24.3,-3.45,30,-1.25],[-15,-6.5,-10.5,-9.55,30,-9.55]],
[0,[14,8.5,24.3,8.5],[14,5.5,18.7,5.5,24.3,8.5]],
[1,[7.5,-2.3,11,-0.5,14,-0.5],[7.5,-2.3,14,-0.5]]];
const caribicSL_red=[-15,-1.1,-10.5,-0.3,-5,-1.9,4.5,0.15,7.5,0.05,13,0.3,24.3,0.2,30,0.45];
const caribicSL_dots=[-5.6,0.5,0,0.5];
const caribicSL_dots2=[4.5,-1.25,9.4,0.2,17.6,0.65,20.6,3,23.6,6,25,5,27.3,4.1,28.8,2.2,30,0.5];
const caribicSL_black=[[-1.9,-3.45,0,-6.5,4.5,-3.45]];

const caribicSR_spots=[
[0,[-30,-0.5,-9,-0.5,-4,0,0,-1,6,-3.1,15,-2.3,32,-2.1,44.6,-2.5],[-30,-9.55,30.4,-9.55,34,-6.5,44.6,-6.5]],
[0,[-14.6,5.6,-11,8.5,-2,8.5],[-14.6,5.6,-9,2.5,-7,0,-2,-0.5]],
[1,[-3.4,5.5,32,5.5,38.5,8.4,41,5.5,45,2.5,49.6,5.4,54,2.5,59.6,2.5],[-3.4,0,0,-1,1,-3,6,-3.1,15,-2.3,32,-2.1,45,-2.5,50,-0.5,59.6,-0.5]],
[1,[-3.4,5.5,-2,8.5],[-3.4,5.5,-2,5.5]],
[2,[4.1,5.5,11.6,5.5,14.6,8.5,18,5.5,34,5.5,36,4,45,2.5,49.6,5.4,54,2.5,59.6,2.5],[4.1,5.4,4.2,1.6,20,1,32,1,45,0.9,59.6,0.7]]];
const caribicSR_red=[-30,0.15,-10.9,-0.1,0,-1.1,11.6,0.15,20,0.35,50,0.3,54.7,0.3,59.6,-0.6];
const caribicSR_dots=[-30,8.5,-28.5,5.15,-25.8,2.25,-20,0.5,-15.7,1.65,-10.9,0.5,-5.2,0.9,0.4,3.25,7.9,4.6,15.4,5.6,28.5,6.45,37.8,8.2,41.6,8.9,47,10,51,9.2,55.4,9.2];
const caribicSR_black=[[-9.7,8.5,-4.5,5.6,-9.7,3.7],[-5.2,8.5,-0.7,5.4,0.4,3.7,-3.4,0.2,-6.7,-0.7,-6.7,-9.55],[-1.5,8.5,4.1,4.6,6,-0.7,6,-6.5,0.4,-9.4],[-6.7,2.4,-4.5,2.9,-2.6,2.4,-4.5,1.95,-6.7,2.4],[-1.5,0.2,-2.2,-6.5,0.4,-7.2,4.1,-6.5,5.2,0.2],[11.6,5.6,15.4,4.4,20.2,4.3,22.8,5.4],[14.5,7.5,11.6,5.6],[36,-0.4,39.7,-1.25,43.4,-0.5,39.7,0.5,36,-0.4],[36,5.6,39.7,3.5],[39,6.2,39,5.4]];

const boulderSR_iso=[
[-20,-9.55,29,-9.55],
[-20,-3,-7.5,-2.4,0,-2.7,7.5,-2.1,20,-2.55,29,-1.55],
[-20,0.2,-7.5,0.5,0,0.95,13,0.8,29,0.65],
[-20,1.2,-7.5,1.95,0,2.25,5.6,2.5,13,2.1,20,1.95,29,1.95],
[-20,2.4,-7.5,2.7,0,3.1,5.6,3.85,13,3.55,20,3.1,29,3],
[-20,3.1,-7.5,3.55,0,3.7,5.6,5.45,13,5.45,20,4.4,29,5],
[-20,6.75,-7.5,7.3,-2,7.8,3.7,9.5,9,10.2,13,10.2,20,9.2,29,10.2],
[-20,9.3,-15,9.7,-8,10.2]];
const boulderSR_spots=[[0,[-29,-7.4,-24.3,-9.55,-20,-6.5],[-29,-7.4,-24.3,-9.55,-20,-9.55]]];
const boulderSR_red=[-20,-0.25,-5.6,-0.3,0,-1.05,5.6,-0.6,11.2,0.05,15.7,0.15,20.6,-0.2,29,0.05];
const boulderSR_dots=[-10,0.5,-4.5,1.8,0,3.25,5.6,4.5,16.9,4.1,22.5,4.6,24.3,5.4,28,4.4];
const boulderSR_black=[[0,0.8,-5.6,-0.4,-5.6,-3.7,0,-5.5,3.7,-3.3,4.5,-0.25,0,0.8],[28.8,4.1,28.8,0.05]];

const tmfSR_iso=[
[-30,-9.55,30,-9.55],
[-30,-4.15,-24.3,-3,-15,-3.3,-7.5,-2.55,0,-2.7,13,-2.7,20.6,-1.25,24.3,-0.5,30,-1.7],
[-30,-0.4,-17,0.2,0,0.8,13,1.2,26,1.65,30,0.95],
[-30,0.95,-17,1.4,0,2.4,13,2.7,24.3,3.1,30,2.4],
[-30,1.8,-17,2.4,0,3.1,13,3.85,24.3,4.2,30,5.9],
[-30,3,-17,3.4,-5.6,4,3.7,5.3,20,5.6,30,6.6],
[-30,7,-24.3,6.45,-5.6,7.2,0,8.35,5.6,9.2,13,10.2,17,10.2,24.3,9.2,30,10.2]];
const tmfSR_red=[-30,-3,-24.3,-1.3,-20.6,-1.3,-15,-0.5,-5.6,-0.15,0,-1.15,5.6,-0.5,16.9,0.15,24.3,1,30,0.1];
const tmfSR_dots=[-18.7,1.2,-10,0.65,-4.5,2.1,1.9,3.25,13,4.2,20.6,4.6,27.3,4.1];
const tmfSR_black=[[0,0.8,-4.5,-3.3,0,-5.2,2.6,-2.4,3,-0.25,0,0.8]];

// ---- helpers
const xy=a=>{const o=[];for(let i=0;i<a.length;i+=2)o.push({x:a[i],y:a[i+1]});return o;};
const columnIso=(lat,levels)=>levels.map(v=>[lat[0],v,lat[1],v]);
const base={showLine:true,pointRadius:0,pointHitRadius:0,tension:0,borderWidth:0};
const RED='#D6131B',PUR='#6445AB',DOT='#6B3EAC',INK='#1c1c1c',DASH='#444';

function datasets(p){
  const ds=[], t=p.smooth?0.28:0;
  (p.iso||[]).forEach((it,c)=>{ if(!it)return;
    (Array.isArray(it[0])?it:[it]).forEach(s=>ds.push({...base,data:xy(s),fill:'end',backgroundColor:C[c]}));});
  (p.spots||[]).forEach(([c,hi,lo])=>{
    ds.push({...base,data:xy(hi),fill:'+1',backgroundColor:C[c]});
    ds.push({...base,data:xy(lo),fill:false});});
  (p.black||[]).forEach(s=>ds.push({...base,data:xy(s),borderWidth:1,borderColor:INK,fill:false}));
  if(p.hdash) ds.push({...base,data:xy(p.hdash),borderWidth:1.6,borderColor:DASH,borderDash:[12,7],fill:false});
  if(p.vdash) ds.push({...base,data:xy(p.vdash),borderWidth:1.4,borderColor:DASH,borderDash:[18,6],fill:false});
  (p.dots||[]).forEach(s=>ds.push({...base,data:xy(s),borderWidth:3.4,borderColor:DOT,borderDash:[0.1,9.6],borderCapStyle:'round',fill:false}));
  if(p.purple) ds.push({...base,tension:t,data:xy(p.purple),borderWidth:4,borderColor:PUR,fill:false,borderJoinStyle:'round'});
  if(p.red) ds.push({...base,tension:t,data:xy(p.red),borderWidth:4.2,borderColor:RED,fill:false,borderJoinStyle:'round'});
  ds.forEach((d,i)=>d.order=ds.length-i);
  return ds;
}

const frame={id:'frame',
  beforeDraw(ch){
    const f=ch.options.plugins.frame, y=ch.scales.y;
    if(!f.nudge||!y) return;
    const items=y.getLabelItems(ch.chartArea);
    if(items&&!items._n){items._n=1;
      if(items[0]&&items[0].options.translation){
        items[0].options.translation[1]+=f.nudge[0];
        items[items.length-1].options.translation[1]+=f.nudge[1];
      }}
  },
  afterDatasetsDraw(ch){
    const f=ch.options.plugins.frame,{left,right,top,bottom}=ch.chartArea,c=ch.ctx,x=ch.scales.x,y=ch.scales.y;
    c.save();c.strokeStyle='#444';c.lineWidth=1.2;c.beginPath();
    const tickX=(v,l)=>{const p=x.getPixelForValue(v);c.moveTo(p,bottom);c.lineTo(p,bottom-l);c.moveTo(p,top);c.lineTo(p,top+l);};
    const tickY=(v,l)=>{const p=y.getPixelForValue(v);c.moveTo(left,p);c.lineTo(left+l,p);c.moveTo(right,p);c.lineTo(right-l,p);};
    f.xMajor.forEach(v=>tickX(v,4.5));
    f.yMajor.forEach(v=>tickY(v,7));
    if(f.xMinorStep){for(let v=x.min;v<=x.max;v+=f.xMinorStep)tickX(v,2.5);}
    for(let v=y.min;v<=y.max;v+=f.yMinorStep)tickY(v,3.5);
    c.stroke();
    c.lineWidth=1.5;c.strokeStyle='#555';c.strokeRect(left,top,right-left,bottom-top);
    c.restore();
  }};

const tickFont={family:'"Liberation Sans",Arial,sans-serif',size:27.5};
const titleFont={family:'"Liberation Sans",Arial,sans-serif',size:29};
const minusLabel=v=>String(v).replace('-','\u2212');
const noPad=s=>{s.paddingLeft=0;s.paddingRight=0;s.paddingTop=0;s.paddingBottom=0;};

function panel(g,a,p){
  const PAD=24, first=!!a.yTitle, Wd=first?g.l:0;
  const cv=document.createElement('canvas');
  const cl=first?0:g.l-PAD, ct=g.t-2, cw=g.r-cl+PAD, H=77;
  cv.width=cw;cv.height=g.b-g.t+2+H;
  cv.style.left=cl+'px';cv.style.top=ct+'px';
  document.body.appendChild(cv);
  new Chart(cv,{type:'scatter',data:{datasets:datasets(p)},plugins:[frame],options:{
    responsive:false,animation:false,devicePixelRatio:1,events:[],
    layout:{autoPadding:false,padding:{left:first?0:PAD,right:PAD,top:2,bottom:0}},
    plugins:{legend:{display:false},tooltip:{enabled:false},
      frame:{xMajor:a.xt,yMajor:a.yt,xMinorStep:a.xm,yMinorStep:a.ym,nudge:first?a.nudge:null}},
    scales:{
      x:{type:'linear',min:a.x[0],max:a.x[1],grid:{display:false,drawTicks:false},border:{display:false},
        afterBuildTicks:s=>{s.ticks=a.xt.map(v=>({value:v}));},
        afterFit:s=>{s.height=H;noPad(s);},
        ticks:{display:true,font:tickFont,color:'#000',padding:12,autoSkip:false,maxRotation:0,minRotation:0,callback:minusLabel},
        title:{display:!!a.xTitle,text:a.xTitle||'',font:titleFont,color:'#000',padding:{top:0,bottom:0}}},
      y:{type:'linear',min:a.y[0],max:a.y[1],grid:{display:false,drawTicks:false},border:{display:false},
        afterBuildTicks:s=>{s.ticks=a.yt.map(v=>({value:v}));},
        afterFit:s=>{s.width=Wd;noPad(s);},
        ticks:{display:first,font:tickFont,color:'#000',padding:9,autoSkip:false,callback:minusLabel},
        title:{display:first,text:a.yTitle||'',font:titleFont,color:'#000',padding:{top:a.yPad||0,bottom:0}}}
    }}});
}

// ---- layout
const cols=[[119,488.5],[509,878],[899,1268],[1289.5,1658],[1679,2048]];
const subs=[[[119,299.6],[307.7,488.5]],[[509,689.4],[697.5,878]],[[899,1080.6],[1087.4,1268]],[[1289.5,1469.7],[1478,1658]],[[1679,1860],[1868,2048]]];
const rows=[[58,287],[425,655],[793,1023],[1161,1390]];
const lat30=[-60,-30,0,30,60];
const rowAxes=[
 {x:[-90,90],xt:lat30,y:[0,25],yt:[0,5,10,15,20,25],ym:1,nudge:[-9.5,9]},
 {x:[-90,90],xt:lat30,y:[-10,10],yt:[-10,-5,0,5,10],ym:1,nudge:[-10,8]},
 {x:[-90,90],xt:lat30,y:[250,550],yt:[300,350,400,450,500],ym:10,nudge:null}];
const rowYTitle=['Z [km]','Z wrt WMO [km]','\u03B8 [K]'];
const rowYPad=[29,12,12];
const rowXTitle=['Latitude','Latitude','Equivalent Latitude'];
const hline=[-90,0,90,0];

const rowContent=[
 [{smooth:1,iso:mlsZ_iso,red:mlsZ_red,purple:mlsZ_purple,dots:[mlsZ_dots],black:mlsZ_black},
  {smooth:1,iso:sageZ_iso,spots:sageZ_spots,red:sageZ_red,purple:sageZ_purple,dots:[sageZ_dots,sageZ_dots2,sageZ_dots3],black:sageZ_black},
  {smooth:1,spots:caribicZ_spots,red:caribicZ_red,purple:caribicZ_purple,dots:[caribicZ_dots,caribicZ_dots2],black:caribicZ_black},
  {iso:columnIso(boulderZ_lat,boulderZ_levels).concat([[35,25,45,25]]),red:boulderZ_red,purple:boulderZ_purple,dots:[boulderZ_dots]},
  {iso:columnIso(tmfZ_lat,tmfZ_levels),red:tmfZ_red,purple:tmfZ_purple,dots:[tmfZ_dots]}],
 [{iso:mlsW_iso,spots:mlsW_spots,red:mlsW_red,dots:[mlsW_dots,mlsW_dots2],black:mlsW_black,hdash:hline},
  {iso:sageW_iso,spots:sageW_spots,red:sageW_red,dots:[sageW_dots,sageW_dots2,sageW_dots3],black:sageW_black,hdash:hline},
  {spots:caribicW_spots,red:caribicW_red,dots:[caribicW_dots,caribicW_dots2],black:caribicW_black,hdash:hline},
  {iso:columnIso(boulderZ_lat,boulderW_levels),red:boulderW_red,dots:[boulderW_dots],hdash:hline},
  {iso:columnIso(tmfZ_lat,tmfW_levels),red:tmfW_red,dots:[tmfW_dots],hdash:hline}],
 [{smooth:1,iso:mlsT_iso,spots:mlsT_spots,red:mlsT_red,purple:mlsT_purple,dots:[mlsT_dots,mlsT_dots2],black:mlsT_black},
  {smooth:1,iso:sageT_iso,spots:sageT_spots,red:sageT_red,purple:sageT_purple,dots:[sageT_dots,sageT_dots2,sageT_dots3],black:sageT_black},
  {spots:caribicT_spots,red:caribicT_red,purple:caribicT_purple,dots:[caribicT_dots],black:caribicT_black},
  {spots:[[0,boulderT_i01,boulderT_floor],[W,boulderT_holeHi,boulderT_holeLo],[1,boulderT_i03,boulderT_i01],[2,boulderT_i05,boulderT_i03],[3,boulderT_i07,boulderT_i05],[4,boulderT_i1,boulderT_i07b],[5,boulderT_top,boulderT_i1],[6,boulderT_ceil,boulderT_i3],[W,boulderT_notchHi,boulderT_notchLo]],red:boulderT_red,purple:boulderT_purple,dots:[boulderT_dots],black:boulderT_black},
  {spots:[[0,tmfT_i01,tmfT_floor],[1,tmfT_i03,tmfT_i01],[2,tmfT_i05,tmfT_i03],[3,tmfT_i07,tmfT_i05],[4,tmfT_i1,tmfT_i07],[5,tmfT_top,tmfT_i1],[6,tmfT_ceil,tmfT_i3]],red:tmfT_red,purple:tmfT_purple,dots:[tmfT_dots],black:tmfT_black}]];

rowContent.forEach((arr,r)=>arr.forEach((p,c)=>{
  const g={l:cols[c][0],r:cols[c][1],t:rows[r][0],b:rows[r][1]};
  const a={...rowAxes[r]};
  if(c===0){a.yTitle=rowYTitle[r];a.yPad=rowYPad[r];}
  if(c===2)a.xTitle=rowXTitle[r];
  panel(g,a,p);
}));

// row 4
const leftAxes={x:[-60,30],xt:[-40,-20,0,20],xm:5,y:[-10,10],yt:[-10,-5,0,5,10],ym:1,nudge:[-10,7]};
const rightAxes={x:[-30,60],xt:[-20,0,20,40],xm:5,y:[-10,10],yt:[-10,-5,0,5,10],ym:1};
const hL=[-60,0,30,0],hR=[-30,0,60,0],vD=[0,-10,0,10];
const row4=[
 [{iso:mlsSL_iso,spots:mlsSL_spots,red:mlsSL_red,dots:[mlsSL_dots],black:mlsSL_black},{iso:mlsSR_iso,spots:mlsSR_spots,red:mlsSR_red,dots:[mlsSR_dots],black:mlsSR_black}],
 [{iso:sageSL_iso,spots:sageSL_spots,red:sageSL_red,dots:[sageSL_dots],black:sageSL_black},{iso:sageSR_iso,spots:sageSR_spots,red:sageSR_red,dots:[sageSR_dots],black:sageSR_black}],
 [{spots:caribicSL_spots,red:caribicSL_red,dots:[caribicSL_dots,caribicSL_dots2],black:caribicSL_black},{spots:caribicSR_spots,red:caribicSR_red,dots:[caribicSR_dots],black:caribicSR_black}],
 [{},{iso:boulderSR_iso,spots:boulderSR_spots,red:boulderSR_red,dots:[boulderSR_dots],black:boulderSR_black}],
 [{},{iso:tmfSR_iso,red:tmfSR_red,dots:[tmfSR_dots],black:tmfSR_black}]];
row4.forEach((pair,c)=>{
  const t=rows[3][0],b=rows[3][1];
  panel({l:subs[c][0][0],r:subs[c][0][1],t,b},{...leftAxes,...(c===0?{yTitle:'Z wrt WMO [km]',yPad:12}:{})},{...pair[0],hdash:hL,vdash:vD});
  panel({l:subs[c][1][0],r:subs[c][1][1],t,b},rightAxes,{...pair[1],hdash:hR,vdash:vD});
});

// colour bar
(function(){
  const cv=document.createElement('canvas');
  const PAD=40,x0=180,x1=1986,t=1546,b=1581,H=50;
  cv.width=x1-x0+2*PAD;cv.height=b-t+H+4;
  cv.style.left=(x0-PAD)+'px';cv.style.top=(t-2)+'px';
  document.body.appendChild(cv);
  new Chart(cv,{type:'bar',data:{labels:['Ozone'],datasets:ozoneBins.map((v,i)=>({data:[v],backgroundColor:C[i],borderWidth:0,stack:'s',barPercentage:1,categoryPercentage:1}))},
   plugins:[{id:'cbframe',afterDatasetsDraw(ch){
     const {left,right,top,bottom}=ch.chartArea,c=ch.ctx,x=ch.scales.x;c.save();
     c.strokeStyle='#222';c.lineWidth=1;c.beginPath();
     for(let i=1;i<ozoneBins.length;i++){const p=x.getPixelForValue(i);c.moveTo(p,top);c.lineTo(p,bottom);}
     c.stroke();c.strokeStyle='#666';c.lineWidth=1.6;c.beginPath();c.moveTo(left,top);c.lineTo(right,top);c.moveTo(left,bottom);c.lineTo(right,bottom);c.stroke();c.restore();}}],
   options:{indexAxis:'y',responsive:false,animation:false,devicePixelRatio:1,events:[],
    layout:{autoPadding:false,padding:{left:PAD,right:PAD,top:2,bottom:2}},
    plugins:{legend:{display:false},tooltip:{enabled:false}},
    scales:{
     y:{display:false,stacked:true},
     x:{type:'linear',stacked:true,min:0,max:10,grid:{display:false,drawTicks:false},border:{display:false},
      afterBuildTicks:s=>{s.ticks=ozoneLabels.map((l,i)=>({value:i}));},
      afterFit:s=>{s.height=H;noPad(s);},
      ticks:{font:tickFont,color:'#000',padding:5,autoSkip:false,maxRotation:0,callback:(v)=>ozoneLabels[v]}}}}});
})();
</script>
</body></html>
